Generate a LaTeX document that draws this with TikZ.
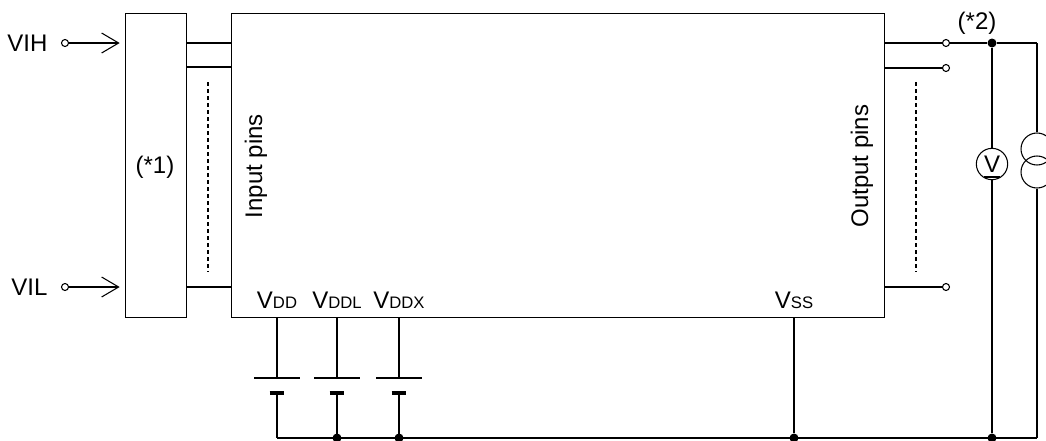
\documentclass[tikz,border=0pt]{standalone}
\usepackage{fontspec}
\setmainfont{Liberation Sans}
\usetikzlibrary{arrows.meta}
\newcommand\pinsub[1]{{\fontsize{12.5}{12.5}\selectfont #1}}
\begin{document}
\begin{tikzpicture}[x=0.75pt,y=-0.75pt,every path/.style={line width=0.8pt},
    lbl/.style={font=\fontsize{18}{18}\selectfont},
    pin/.style={circle,draw,fill=white,inner sep=0pt,minimum size=5.25pt},
    dot/.style={circle,fill,inner sep=0pt,minimum size=6.75pt},
    meter/.style={circle,draw,inner sep=0pt,minimum size=23.5pt},
    pinrow/.style={dash pattern=on 3pt off 2.25pt},
    feed/.style={-{Straight Barb[length=12.75pt,width=15pt]}}]
    \useasboundingbox (0,0) rectangle (1046,440);
    % boxes
    \node[draw, anchor=north west, inner sep=0pt, minimum width=45.75pt, minimum height=228pt] (drv) at (125,13) {};
    \node[draw, anchor=north west, inner sep=0pt, minimum width=489.75pt, minimum height=228pt] (dut) at (231,13) {};
    \node[lbl] at (155,167) {(*1)};
    \node[lbl, rotate=90] at (256,166) {Input pins};
    \node[lbl, rotate=90] at (862,166) {Output pins};

    % input side
    \node[pin] (vih) at (65,43) {};
    \node[pin] (vil) at (65,287) {};
    \node[lbl, anchor=east, inner sep=0pt] at (48,43) {VIH};
    \node[lbl, anchor=east, inner sep=0pt] at (48,287) {VIL};
    \draw[feed] (vih) -- ([xshift=-4pt]drv.west |- vih);
    \draw[feed] (vil) -- ([xshift=-4pt]drv.west |- vil);
    \foreach \y [count=\i] in {43,67,287} {
        \coordinate (ip\i) at (186,\y);
        \draw (ip\i) -- (ip\i -| dut.west);
    }
    \draw[pinrow] (208,82) -- (208,272);

    % output side
    \foreach \y [count=\i] in {43,68,287} {
        \node[pin] (op\i) at (946,\y) {};
        \draw (dut.east |- op\i) -- (op\i);
    }
    \draw[pinrow] (916,82) -- (916,272);
    \node[dot] (mtop) at (992,43) {};
    \coordinate (rtop) at (1037,43);
    \node[lbl] at (977,23) {(*2)};
    \draw (op1) -- (mtop) -- (rtop);

    % supplies
    \foreach \x/\n in {277/DD,337/DDL,399/DDX} {
        \node[lbl, anchor=base, inner sep=0pt] at (\x,308) {V\pinsub{\n}};
        \coordinate (top\n) at (\x,317);
        \coordinate (lp\n) at (\x,378);
        \coordinate (sp\n) at (\x,393);
        \coordinate (gnd\n) at (\x,438);
        \draw (top\n) -- (lp\n);
        \draw[line width=2pt] ([xshift=-17.25pt]lp\n) -- ([xshift=17.25pt]lp\n);
        \draw[line width=3.5pt] ([xshift=-5.6pt]sp\n) -- ([xshift=5.6pt]sp\n);
        \draw (sp\n) -- (gnd\n);
    }
    \node[lbl, anchor=base, inner sep=0pt] at (794,308) {V\pinsub{SS}};
    \coordinate (topSS) at (794,317);
    \node[dot] (gndSS) at (794,438) {};
    \node[dot] at (gndDDL) {};
    \node[dot] at (gndDDX) {};
    \node[dot] (mbot) at (992,438) {};
    \coordinate (rbot) at (1037,438);
    \draw (topSS) -- (gndSS);
    \draw (gndDD) -- (rbot);

    % meters
    \node[meter, lbl] (vm) at (992,164) {V};
    \draw[line width=1.6pt] ([xshift=-6pt,yshift=-9.5pt]vm.center) -- ([xshift=6pt,yshift=-9.5pt]vm.center);
    \draw (mtop) -- (vm) -- (mbot);
    \node[meter, minimum size=24pt] (cs1) at (1037,149) {};
    \node[meter, minimum size=24pt] (cs2) at (1037,172) {};
    \draw (rtop) -- (cs1.north);
    \draw (cs2.south) -- (rbot);
\end{tikzpicture}
\end{document}
